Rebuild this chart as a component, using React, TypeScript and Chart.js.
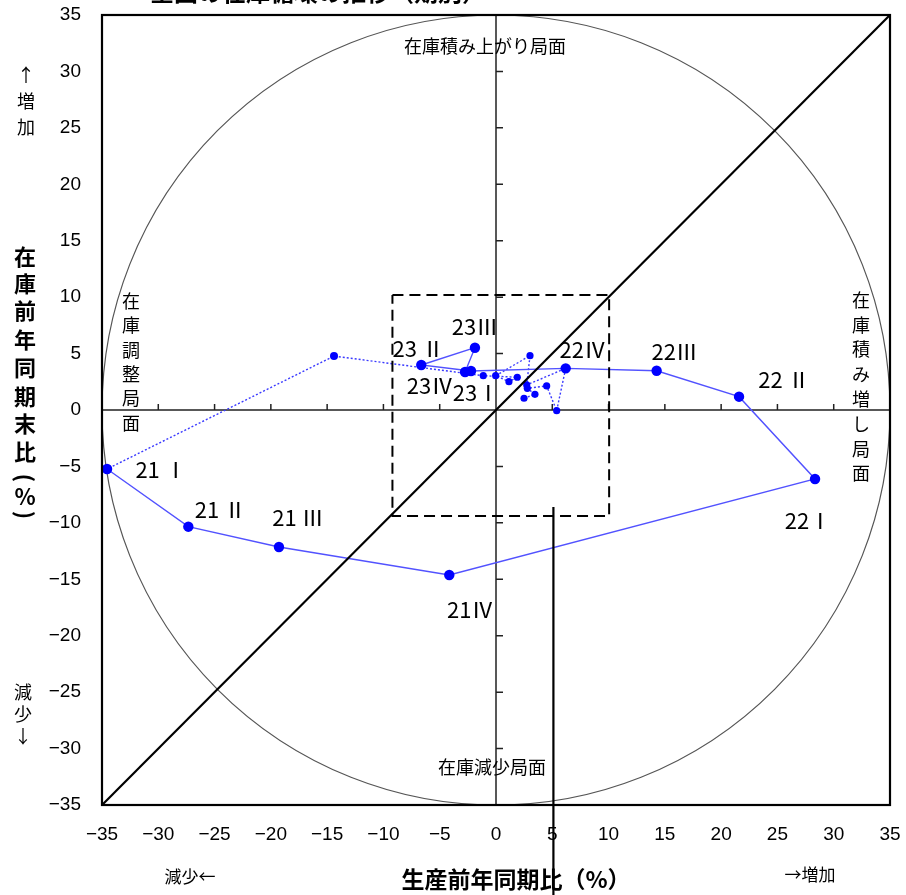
import React, { useEffect, useRef } from "react";
import { Chart, registerables } from "chart.js";

Chart.register(...registerables);

// ---- data ----
const quarterLabels = ["21 Ⅰ", "21 Ⅱ", "21 Ⅲ", "21Ⅳ", "22Ⅰ", "22 Ⅱ", "22Ⅲ", "22Ⅳ", "23Ⅰ", "23 Ⅱ", "23Ⅲ", "23Ⅳ"];
const productionYoY = [-34.55, -27.33, -19.28, -4.15, 28.34, 21.59, 14.27, 6.19, -2.22, -6.64, -1.87, -2.75];
const inventoryYoY = [-5.23, -10.34, -12.14, -14.62, -6.11, 1.18, 3.48, 3.69, 3.46, 3.99, 5.52, 3.37];

const priorProductionYoY = [2.49, 3.46, 2.78, 4.5, 5.39, 6.19, 2.73, 3.02, -0.03, 1.15, 1.89, -1.13, -14.39, -34.55];
const priorInventoryYoY = [1.04, 1.39, 1.92, 2.13, -0.06, 3.69, 2.22, 4.81, 3.04, 2.51, 2.9, 3.04, 4.78, -5.23];

const axisMin = -35;
const axisMax = 35;
const axisStep = 5;

const focusBoxX = [-9.2, 10.05];
const focusBoxY = [-9.4, 10.2];
const calloutX = 5.1;
const calloutY = [-8.6, -46];

const chartTitle = "全国の在庫循環の推移（期別）";
const yTitleChars = ["在", "庫", "前", "年", "同", "期", "末", "比"];
const yTitleUnit = ["(", "%", ")"];
const xTitle = "生産前年同期比（%）";
const upChars = ["↑", "増", "加"];
const downChars = ["減", "少", "↓"];
const leftLabel = "減少←";
const rightLabel = "→増加";
const quadTop = "在庫積み上がり局面";
const quadBottom = "在庫減少局面";
const quadLeft = ["在", "庫", "調", "整", "局", "面"];
const quadRight = ["在", "庫", "積", "み", "増", "し", "局", "面"];

// ---- styles (pixel offsets of point labels) ----
const labelOffsets: [number, number][] = [
  [54, 1], [32, -17], [19, -29], [21, 35], [-7, 42], [45, -17],
  [18, -19], [17, -19], [5, 22], [-3, -16], [0, -21], [-35, 14],
];

const JP = "'Noto Sans CJK JP', 'Noto Sans', sans-serif";
const NUM = "'Liberation Sans', 'DejaVu Sans', sans-serif";
const fmt = (v: any) => String(v).replace("-", "−");

const decorPlugin = {
  id: "decor",
  beforeDatasetsDraw(chart: any) {
    const { ctx, chartArea: a, scales } = chart;
    const x = scales.x, y = scales.y;
    ctx.save();
    const cx = x.getPixelForValue(0);
    const cy = y.getPixelForValue(0);
    const rx = x.getPixelForValue(axisMax) - cx;
    const ry = cy - y.getPixelForValue(axisMax);
    ctx.beginPath();
    ctx.ellipse(cx, cy, rx, ry, 0, 0, Math.PI * 2);
    ctx.strokeStyle = "#555";
    ctx.lineWidth = 1.2;
    ctx.stroke();

    ctx.strokeStyle = "#222";
    ctx.lineWidth = 1.5;
    ctx.beginPath();
    ctx.moveTo(a.left, cy);
    ctx.lineTo(a.right, cy);
    ctx.moveTo(cx, a.top);
    ctx.lineTo(cx, a.bottom);
    for (let v = axisMin; v <= axisMax; v += axisStep) {
      const px = x.getPixelForValue(v);
      ctx.moveTo(px, cy);
      ctx.lineTo(px, cy - 6);
      const py = y.getPixelForValue(v);
      ctx.moveTo(cx, py);
      ctx.lineTo(cx + 7, py);
    }
    ctx.stroke();
    ctx.restore();
  },
  afterDraw(chart: any) {
    const { ctx, chartArea: a, scales } = chart;
    const x = scales.x, y = scales.y;
    ctx.save();
    // frame
    ctx.strokeStyle = "#000";
    ctx.lineWidth = 2.2;
    ctx.strokeRect(a.left, a.top, a.right - a.left, a.bottom - a.top);

    ctx.fillStyle = "#000";

    // tick labels from the scales
    ctx.font = `19px ${NUM}`;
    ctx.textBaseline = "middle";
    ctx.textAlign = "center";
    x.ticks.forEach((t: any) => ctx.fillText(fmt(t.value), x.getPixelForValue(t.value), a.bottom + 30));
    ctx.textAlign = "right";
    y.ticks.forEach((t: any) => ctx.fillText(fmt(t.value), a.left - 21, y.getPixelForValue(t.value)));

    ctx.textAlign = "center";
    // point labels
    ctx.font = `22px ${JP}`;
    quarterLabels.forEach((lab, i) => {
      const px = x.getPixelForValue(productionYoY[i]) + labelOffsets[i][0];
      const py = y.getPixelForValue(inventoryYoY[i]) + labelOffsets[i][1];
      ctx.fillText(lab, px, py);
    });

    // quadrant texts
    ctx.font = `18px ${JP}`;
    ctx.fillText(quadTop, 485, 46);
    ctx.fillText(quadBottom, 492, 767);
    quadLeft.forEach((c, i) => ctx.fillText(c, 131, 301 + i * 24.4));
    quadRight.forEach((c, i) => ctx.fillText(c, 861, 300 + i * 24.8));

    // y title
    ctx.font = `bold 22px ${JP}`;
    const ys = [257, 284, 311, 340, 368, 397, 424, 452];
    yTitleChars.forEach((c, i) => ctx.fillText(c, 25, ys[i]));
    const uys = [478, 497, 515];
    yTitleUnit.forEach((c, i) => {
      ctx.save();
      ctx.translate(25, uys[i]);
      if (c !== "%") ctx.rotate(Math.PI / 2);
      ctx.fillText(c, 0, 0);
      ctx.restore();
    });
    ctx.font = `18px ${JP}`;
    upChars.forEach((c, i) => ctx.fillText(c, 26, 75 + i * 26));
    downChars.forEach((c, i) => ctx.fillText(c, 23, 692 + i * 22));

    // x title
    ctx.font = `bold 23px ${JP}`;
    ctx.fillText(xTitle, 516, 879);
    ctx.font = `17px ${JP}`;
    ctx.fillText(leftLabel, 190, 877);
    ctx.fillText(rightLabel, 810, 875);

    // chart title (cropped at the top)
    ctx.font = `bold 24px ${JP}`;
    ctx.textBaseline = "alphabetic";
    ctx.fillText(chartTitle, 318, 1);
    ctx.restore();
  },
};

export default function App() {
  const ref = useRef<HTMLCanvasElement>(null);

  useEffect(() => {
    if (!ref.current) return;
    const mainData = productionYoY.map((v, i) => ({ x: v, y: inventoryYoY[i] }));
    const priorData = priorProductionYoY.map((v, i) => ({ x: v, y: priorInventoryYoY[i] }));
    const priorRadius = priorData.map((_, i) =>
      i === priorData.length - 1 ? 0 : i === priorData.length - 2 ? 4 : 3.6
    );
    const boxData = [
      { x: focusBoxX[0], y: focusBoxY[1] },
      { x: focusBoxX[1], y: focusBoxY[1] },
      { x: focusBoxX[1], y: focusBoxY[0] },
      { x: focusBoxX[0], y: focusBoxY[0] },
      { x: focusBoxX[0], y: focusBoxY[1] },
    ];

    const chart = new Chart(ref.current, {
      type: "scatter",
      data: {
        datasets: [
          {
            data: [{ x: axisMin, y: axisMin }, { x: axisMax, y: axisMax }],
            showLine: true,
            borderColor: "#000",
            borderWidth: 2.2,
            pointRadius: 0,
          },
          {
            data: boxData,
            showLine: true,
            borderColor: "#000",
            borderWidth: 2,
            borderDash: [11, 6],
            pointRadius: 0,
          },
          {
            data: [{ x: calloutX, y: calloutY[0] }, { x: calloutX, y: calloutY[1] }],
            showLine: true,
            borderColor: "#000",
            borderWidth: 2.2,
            pointRadius: 0,
            clip: false,
          } as any,
          {
            data: mainData,
            showLine: true,
            borderColor: "#5252ff",
            borderWidth: 1.4,
            pointRadius: 5.2,
            pointBackgroundColor: "#0000ff",
            pointBorderColor: "#0000ff",
            pointBorderWidth: 0,
          },
          {
            data: priorData,
            showLine: true,
            borderColor: "#3a3aff",
            borderWidth: 1.4,
            borderDash: [2, 2],
            pointRadius: priorRadius,
            pointBackgroundColor: "#0000ff",
            pointBorderColor: "#0000ff",
            pointBorderWidth: 0,
          },
        ],
      },
      options: {
        animation: false,
        responsive: true,
        maintainAspectRatio: false,
        layout: { padding: { left: 0, top: 15, right: 16, bottom: 0 } },
        plugins: { legend: { display: false }, tooltip: { enabled: false } },
        scales: {
          x: {
            type: "linear",
            min: axisMin,
            max: axisMax,
            grid: { display: false, drawTicks: false },
            border: { display: false },
            ticks: { stepSize: axisStep, display: false },
            afterFit: (s: any) => {
              s.height = 90;
            },
          },
          y: {
            type: "linear",
            min: axisMin,
            max: axisMax,
            grid: { display: false, drawTicks: false },
            border: { display: false },
            ticks: { stepSize: axisStep, display: false },
            afterFit: (s: any) => {
              s.width = 102;
            },
          },
        },
      } as any,
      plugins: [decorPlugin],
    });
    return () => chart.destroy();
  }, []);

  return (
    <div style={{ position: "absolute", left: 0, top: 0, width: 906, height: 895, background: "#fff" }}>
      <canvas ref={ref} />
    </div>
  );
}
